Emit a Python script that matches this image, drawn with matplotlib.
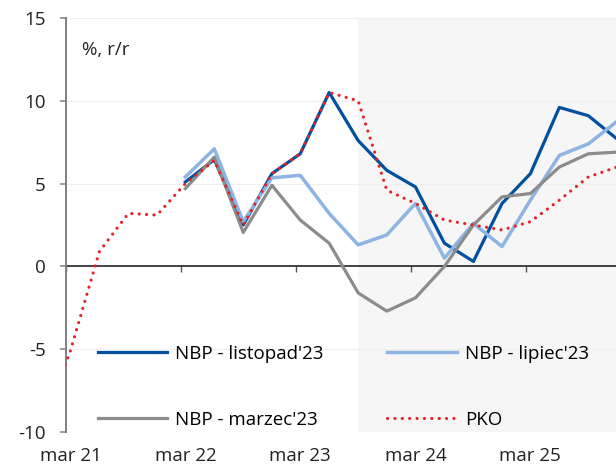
import matplotlib
matplotlib.use('Agg')
import matplotlib.pyplot as plt
import pandas as pd

plt.rcParams['font.family'] = ['Open Sans', 'DejaVu Sans']

# quarterly observations, dated mid-month of the last month of each quarter
quarters = pd.date_range('2020-12-15', '2025-12-15', freq=pd.DateOffset(months=3))
nbp_quarters = quarters[5:]  # projections start in Q1 2022

pko = [-9.7, -5.1, 0.9, 3.2, 3.1, 5.0, 6.4, 2.5, 5.6, 6.8, 10.5,
       10.0, 4.6, 3.8, 2.8, 2.5, 2.2, 2.7, 4.0, 5.4, 6.0]
nbp_nov23 = [5.1, 6.45, 2.5, 5.6, 6.8, 10.5, 7.6, 5.8, 4.8, 1.4, 0.3,
             3.8, 5.6, 9.6, 9.1, 7.7]
nbp_jul23 = [5.4, 7.1, 2.7, 5.35, 5.5, 3.2, 1.3, 1.9, 3.8, 0.5, 2.6,
             1.2, 4.0, 6.7, 7.4, 8.75]
nbp_mar23 = [4.7, 6.6, 2.05, 4.9, 2.8, 1.4, -1.6, -2.7, -1.9, 0.0, 2.5,
             4.2, 4.4, 6.0, 6.8, 6.9]

labels = ["NBP - listopad'23", "NBP - lipiec'23", "NBP - marzec'23", "PKO"]
colors = ['#0050a0', '#8db4e2', '#8c8c8c', '#e8202a']

years = [2021, 2022, 2023, 2024, 2025]
year_labels = ['mar 21', 'mar 22', 'mar 23', 'mar 24', 'mar 25']

forecast_start = quarters[11]  # Q3 2023
x_left = pd.Timestamp('2021-03-01')
x_right = pd.Timestamp('2025-12-12')

fig = plt.figure(figsize=(6.16, 4.70), dpi=100)
ax = fig.add_axes([66 / 616, 1 - 432 / 470, 1 - 66 / 616, 414 / 470])

# forecast period background
ax.axvspan(forecast_start, x_right, color='#f6f6f6', zorder=0, lw=0)
for y in [-10, -5, 5, 10, 15]:
    ax.axhline(y, color='#efefef', lw=0.8, zorder=0.5)

h_nov, = ax.plot(nbp_quarters, nbp_nov23, color=colors[0], lw=2.3, label=labels[0], zorder=3)
h_jul, = ax.plot(nbp_quarters, nbp_jul23, color=colors[1], lw=2.5, label=labels[1], zorder=4)
h_mar, = ax.plot(nbp_quarters, nbp_mar23, color=colors[2], lw=2.3, label=labels[2], zorder=5)
h_pko, = ax.plot(quarters, pko, color=colors[3], lw=2.3, linestyle=(0, (0.01, 2.3)),
                 dash_capstyle='round', label=labels[3], zorder=6)

ax.set_xlim(x_left, x_right)
ax.set_ylim(-10, 15)
ax.set_yticks([-10, -5, 0, 5, 10, 15])
ax.set_yticklabels(['-10', '-5', '0', '5', '10', '15'])

# x labels sit under the March points, tick marks on the zero line
ax.set_xticks([pd.Timestamp(f'{y}-03-15') for y in years])
ax.set_xticklabels(year_labels)
ax.tick_params(axis='x', length=0, pad=11, labelsize=13.5, colors='#222222')
ax.tick_params(axis='y', length=4.5, width=1.1, color='#808080', pad=10,
               labelsize=13.5, labelcolor='#222222')

for side in ['top', 'right', 'bottom']:
    ax.spines[side].set_visible(False)
ax.spines['left'].set_color('#808080')
ax.spines['left'].set_linewidth(1.4)

zero_axis = ax.secondary_xaxis(10 / 25)
zero_axis.set_xticks([pd.Timestamp(f'{y}-03-01') for y in years])
zero_axis.set_xticklabels([])
zero_axis.tick_params(axis='x', direction='out', length=4, width=1, color='#555555')
zero_axis.spines['bottom'].set_color('#111111')
zero_axis.spines['bottom'].set_linewidth(1.1)
zero_axis.spines['bottom'].set_zorder(2)

ax.text(16 / 550, 0.9215, '%, r/r', transform=ax.transAxes, fontsize=13.5,
        color='#222222', va='center', ha='left')

# legend filled row by row: listopad, lipiec / marzec, PKO
ax.legend([h_nov, h_mar, h_jul, h_pko], [labels[0], labels[2], labels[1], labels[3]],
          ncol=2, loc='upper left', bbox_to_anchor=(0.058, 0.2102), frameon=False,
          fontsize=13.5, handlelength=3.7, handletextpad=0.43, columnspacing=3.4,
          labelspacing=2.55, borderpad=0, borderaxespad=0)

fig.savefig('out.png', dpi=100)
